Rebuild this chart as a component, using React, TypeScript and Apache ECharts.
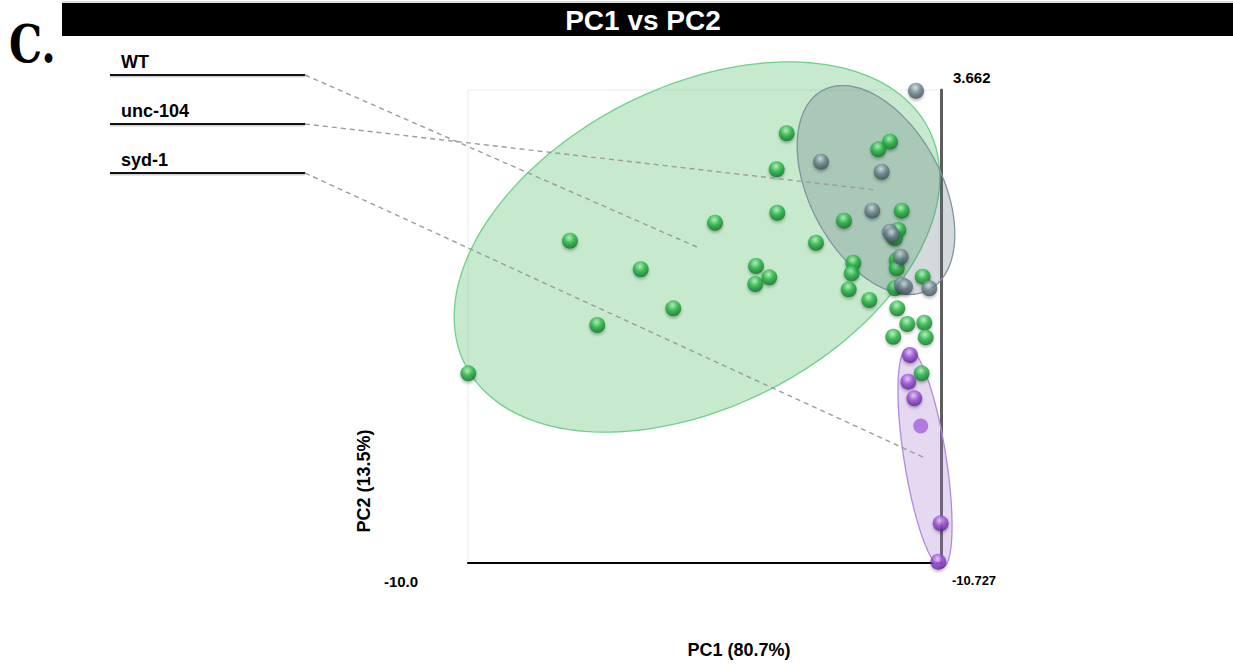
import React, { useEffect, useRef } from "react";
import * as echarts from "echarts";

// ---- data (PC1, PC2) ----
const wtPoints: number[][] = [
  [-2.772, 2.68], [-0.429, 2.49], [-0.695, 2.317], [-2.999, 1.864], [-2.985, 0.879],
  [-4.398, 0.652], [-0.164, 0.925], [-1.473, 0.698], [-0.241, 0.487], [-0.316, 0.299],
  [-7.687, 0.244], [-2.108, 0.199], [-1.262, -0.255], [-1.298, -0.495], [-3.468, -0.33],
  [-3.167, -0.586], [-3.484, -0.738], [-6.083, -0.404], [-0.278, -0.193], [-0.278, -0.382],
  [0.312, -0.572], [-1.366, -0.858], [-0.899, -1.101], [-0.316, -0.835], [-5.344, -1.289],
  [-0.264, -1.289], [-7.068, -1.668], [-0.037, -1.645], [0.348, -1.615], [-0.355, -1.933],
  [0.38, -1.947], [-9.993, -2.763], [0.289, -2.763],
];
const unc104Points: number[][] = [
  [0.16, 3.646], [-1.994, 2.036], [-0.618, 1.809], [-0.831, 0.925], [-0.429, 0.448],
  [-0.378, 0.374], [-0.187, -0.119], [-0.164, -0.76], [-0.089, -0.799], [0.462, -0.835],
];
const syd1Points: number[][] = [
  [0.024, -2.348], [-0.014, -2.953], [0.122, -3.33], [0.72, -6.165], [0.666, -7.036],
];
const syd1FlatPoints: number[][] = [[0.267, -3.958]];

// ellipses: [centerX, centerY, semiMajor, semiMinor, angleDeg]
const ellipseWT = [-4.807, 0.101, 5.897, 3.629, 27];
const ellipseUnc104 = [-0.747, 1.394, 2.563, 1.497, -62];
const ellipseSyd1 = [0.364, -4.684, 2.517, 0.476, -81];

const groupNames = ["WT", "unc-104", "syd-1"];
const xRange = [-10.0, 0.727];
const yRange = [-7.065, 3.662];
const xTickLabels = ["-10.0"];
const yTickLabels = ["3.662", "-10.727"];
const chartTitle = "PC1 vs PC2";
const xAxisName = "PC1 (80.7%)";
const yAxisName = "PC2 (13.5%)";
const panelLabel = "C.";

const FONT = "'Liberation Sans', Arial, Helvetica, sans-serif";

const ellipseStyles = [
  { fill: "rgba(100,195,120,0.36)", stroke: "#6fd088" },
  { fill: "rgba(85,110,120,0.26)", stroke: "#7f959e" },
  { fill: "rgba(160,115,205,0.28)", stroke: "#b388e0" },
];

function sphere(light: string, base: string, dark: string) {
  return {
    type: "radial",
    x: 0.45,
    y: 0.32,
    r: 0.72,
    colorStops: [
      { offset: 0, color: light },
      { offset: 0.45, color: base },
      { offset: 1, color: dark },
    ],
  };
}

export default function App() {
  const ref = useRef<HTMLDivElement>(null);

  useEffect(() => {
    document.body.style.margin = "0";
    const chart = echarts.init(ref.current!, null, { renderer: "svg" });
    const pointShadow = {
      shadowBlur: 3,
      shadowColor: "rgba(0,0,0,0.35)",
      shadowOffsetY: 2,
    };
    chart.setOption({
      animation: false,
      grid: {
        left: 468,
        top: 90,
        width: 473,
        height: 473,
        show: true,
        borderColor: "#ececec",
        borderWidth: 1,
      },
      xAxis: {
        type: "value",
        min: xRange[0],
        max: xRange[1],
        axisLine: { show: true, onZero: false, lineStyle: { color: "#000", width: 2 } },
        axisTick: { show: false },
        axisLabel: { show: false },
        splitLine: { show: false },
      },
      yAxis: {
        type: "value",
        position: "right",
        min: yRange[0],
        max: yRange[1],
        axisLine: { show: true, onZero: false, lineStyle: { color: "#5e5e5e", width: 3 } },
        axisTick: { show: false },
        axisLabel: { show: false },
        splitLine: { show: false },
      },
      series: [
        {
          type: "custom",
          clip: false,
          z: 1,
          data: [ellipseWT, ellipseUnc104, ellipseSyd1],
          renderItem: (params: any, api: any) => {
            const cx = api.value(0);
            const cy = api.value(1);
            const a = api.value(2);
            const b = api.value(3);
            const ang = (api.value(4) * Math.PI) / 180;
            const pts: number[][] = [];
            const n = 160;
            for (let i = 0; i < n; i++) {
              const t = (i / n) * Math.PI * 2;
              const ex = a * Math.cos(t);
              const ey = b * Math.sin(t);
              pts.push(
                api.coord([
                  cx + ex * Math.cos(ang) - ey * Math.sin(ang),
                  cy + ex * Math.sin(ang) + ey * Math.cos(ang),
                ])
              );
            }
            const st = ellipseStyles[params.dataIndex];
            return {
              type: "polygon",
              shape: { points: pts },
              style: { fill: st.fill, stroke: st.stroke, lineWidth: 1.3 },
            };
          },
        },
        {
          name: groupNames[0],
          type: "scatter",
          clip: false,
          z: 3,
          symbolSize: 16,
          data: wtPoints,
          itemStyle: {
            color: sphere("#b6f5bd", "#27b845", "#0a6a20"),
            ...pointShadow,
          },
        },
        {
          name: groupNames[1],
          type: "scatter",
          clip: false,
          z: 4,
          symbolSize: 16,
          data: unc104Points,
          itemStyle: {
            color: sphere("#d5e0e4", "#6f8891", "#36474e"),
            ...pointShadow,
          },
        },
        {
          name: groupNames[2],
          type: "scatter",
          clip: false,
          z: 4,
          symbolSize: 16,
          data: syd1Points,
          itemStyle: {
            color: sphere("#e9c9ff", "#9a4fd6", "#561c8a"),
            ...pointShadow,
          },
        },
        {
          name: groupNames[2] + " (mean)",
          type: "scatter",
          clip: false,
          z: 4,
          symbolSize: 15,
          data: syd1FlatPoints,
          itemStyle: { color: "#a661df" },
        },
      ],
    });

    const centers = [ellipseWT, ellipseUnc104, ellipseSyd1].map((e) =>
      chart.convertToPixel({ xAxisIndex: 0, yAxisIndex: 0 }, [e[0], e[1]]) as number[]
    );
    const legendY = [75, 124, 173];
    const graphics: any[] = [
      {
        type: "rect",
        shape: { x: 62, y: 3, width: 1233 - 62, height: 33 },
        style: { fill: "#000" },
        z: 10,
      },
      {
        type: "line",
        shape: { x1: 62, y1: 2, x2: 1233, y2: 2 },
        style: { stroke: "#bbb", lineWidth: 1 },
        z: 10,
      },
      {
        type: "text",
        x: 643,
        y: 20,
        z: 11,
        style: {
          text: chartTitle,
          fill: "#fff",
          font: `bold 28px ${FONT}`,
          align: "center",
          verticalAlign: "middle",
        },
      },
      {
        type: "text",
        x: 9,
        y: 44,
        scaleX: 0.8,
        z: 11,
        style: {
          text: panelLabel,
          fill: "#000",
          font: `bold 52px 'DejaVu Serif', 'Liberation Serif', serif`,
          align: "left",
          verticalAlign: "middle",
        },
      },
    ];
    groupNames.forEach((name, i) => {
      graphics.push({
        type: "text",
        x: 121,
        y: legendY[i] - 13,
        z: 11,
        style: {
          text: name,
          fill: "#000",
          font: `bold 18px ${FONT}`,
          align: "left",
          verticalAlign: "middle",
        },
      });
      graphics.push({
        type: "rect",
        z: 11,
        shape: { x: 110, y: legendY[i] + 1, width: 195, height: 1.5 },
        style: { fill: "rgba(0,0,0,0.18)" },
      });
      graphics.push({
        type: "rect",
        z: 11,
        shape: { x: 110, y: legendY[i] - 1, width: 195, height: 2 },
        style: { fill: "#111" },
      });
      graphics.push({
        type: "line",
        z: 12,
        shape: { x1: 305, y1: legendY[i], x2: centers[i][0], y2: centers[i][1] },
        style: { stroke: "#9c9c9c", lineWidth: 1.4, lineDash: [5, 4] },
      });
    });
    graphics.push(
      {
        type: "text",
        x: 401,
        y: 581,
        z: 11,
        style: {
          text: xTickLabels[0],
          fill: "#000",
          font: `bold 15px ${FONT}`,
          align: "center",
          verticalAlign: "middle",
        },
      },
      {
        type: "text",
        x: 953,
        y: 77,
        z: 11,
        style: {
          text: yTickLabels[0],
          fill: "#000",
          font: `bold 15px ${FONT}`,
          align: "left",
          verticalAlign: "middle",
        },
      },
      {
        type: "text",
        x: 952,
        y: 580,
        z: 11,
        style: {
          text: yTickLabels[1],
          fill: "#000",
          font: `bold 13px ${FONT}`,
          align: "left",
          verticalAlign: "middle",
        },
      },
      {
        type: "text",
        x: 739,
        y: 650,
        z: 11,
        style: {
          text: xAxisName,
          fill: "#000",
          font: `bold 18px ${FONT}`,
          align: "center",
          verticalAlign: "middle",
        },
      },
      {
        type: "text",
        x: 364,
        y: 481,
        rotation: Math.PI / 2,
        z: 11,
        style: {
          text: yAxisName,
          fill: "#000",
          font: `bold 18px ${FONT}`,
          align: "center",
          verticalAlign: "middle",
        },
      }
    );
    chart.setOption({ graphic: graphics });

    return () => chart.dispose();
  }, []);

  return <div ref={ref} style={{ width: 1233, height: 665 }} />;
}
